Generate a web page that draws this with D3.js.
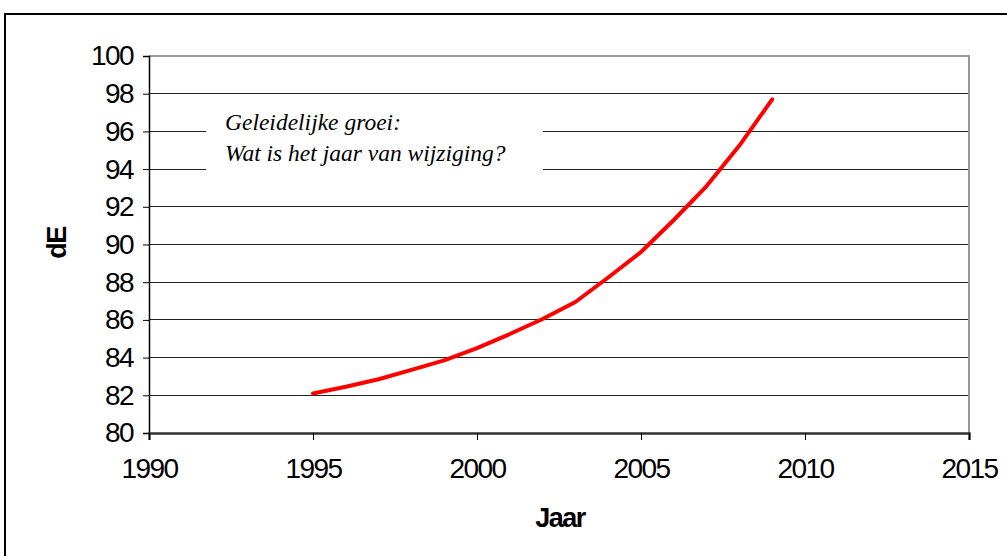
<!DOCTYPE html>
<html><head><meta charset="utf-8">
<script src="https://cdn.jsdelivr.net/npm/d3@7/dist/d3.min.js"></script>
<style>body{margin:0;background:#fff}svg{display:block}</style>
</head><body>
<script>
const years = [1995,1996,1997,1998,1999,2000,2001,2002,2003,2004,2005,2006,2007,2008,2009];
const dE = [82.1,82.45,82.85,83.35,83.85,84.5,85.25,86.05,86.95,88.25,89.6,91.3,93.1,95.25,97.7];
const xTicks = [1990,1995,2000,2005,2010,2015];
const yTicks = [80,82,84,86,88,90,92,94,96,98,100];
const noteLines = ["Geleidelijke groei:", "Wat is het jaar van wijziging?"];

const W = 1007, H = 556;
const svg = d3.select("body").append("svg").attr("width", W).attr("height", H);
svg.append("rect").attr("x",5).attr("y",14).attr("width",1010).attr("height",560)
  .attr("fill","#fff").attr("stroke","#000").attr("stroke-width",2);

const L = 149, R = 969, T = 56, B = 433;
const x = d3.scaleLinear().domain([1990,2015]).range([L,R]);
const y = d3.scaleLinear().domain([80,100]).range([B,T]);

// gridlines
svg.append("g").selectAll("line").data(yTicks.filter(v=>v>80 && v<100)).join("line")
  .attr("x1",L).attr("x2",R).attr("y1",d=>y(d)).attr("y2",d=>y(d))
  .attr("stroke","#222").attr("stroke-width",1).attr("shape-rendering","crispEdges");
// plot border top/right gray
svg.append("path").attr("d",`M${L},${T}H${R}V${B}`).attr("fill","none")
  .attr("stroke","#999").attr("stroke-width",1.5).attr("shape-rendering","crispEdges");

// note box
const note = svg.append("g");
note.append("rect").attr("x",206).attr("y",108).attr("width",337).attr("height",64).attr("fill","#fff");
note.selectAll("text").data(noteLines).join("text")
  .attr("x",225).attr("y",(d,i)=>130+i*31)
  .attr("font-family","Liberation Serif, serif").attr("font-style","italic").attr("font-size",23.5)
  .attr("fill","#000").text(d=>d);

const sans = "Liberation Sans, Arial, sans-serif";
// axes
const yAxis = d3.axisLeft(y).tickValues(yTicks).tickSize(6).tickPadding(10).tickFormat(d3.format("d"));
const gy = svg.append("g").attr("transform",`translate(${L},0)`).call(yAxis);
gy.select(".domain").attr("stroke","#000").attr("stroke-width",1.5);
gy.selectAll(".tick line").attr("stroke","#000");
gy.selectAll("text").attr("font-family",sans).attr("font-size",28)
  .attr("letter-spacing","-1.6").attr("fill","#000");

const xAxis = d3.axisBottom(x).tickValues(xTicks).tickSize(7).tickPadding(18).tickFormat(d3.format("d"));
const gx = svg.append("g").attr("transform",`translate(0,${B})`).call(xAxis);
gx.select(".domain").attr("stroke","#333").attr("stroke-width",2.5);
gx.selectAll(".tick line").attr("stroke","#000");
gx.selectAll("text").attr("font-family",sans).attr("font-size",28)
  .attr("letter-spacing","-1.6").attr("fill","#000");

// line
const line = d3.line().x((d,i)=>x(years[i])).y(d=>y(d));
svg.append("path").datum(dE).attr("d",line).attr("fill","none")
  .attr("stroke","#ff0000").attr("stroke-width",4).attr("stroke-linejoin","round").attr("stroke-linecap","round");

// titles
svg.append("text").attr("x",560).attr("y",527).attr("text-anchor","middle")
  .attr("font-family",sans).attr("font-weight","bold").attr("font-size",27)
  .attr("letter-spacing","-1.5").text("Jaar");
svg.append("text").attr("transform","translate(66,243) rotate(-90)").attr("text-anchor","middle")
  .attr("font-family",sans).attr("font-weight","bold").attr("font-size",27)
  .attr("letter-spacing","-1.5").text("dE");
</script>
</body></html>
